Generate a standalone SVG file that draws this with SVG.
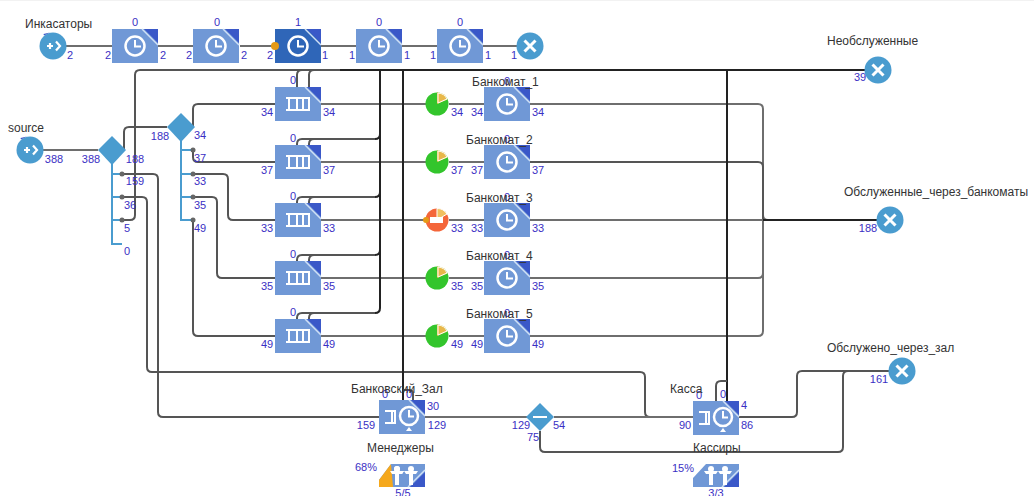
<svg xmlns="http://www.w3.org/2000/svg" width="1034" height="496" viewBox="0 0 1034 496">
<style>
text{font-family:"Liberation Sans",Arial,sans-serif}
.n{font-size:11px;fill:#3a30c4;text-anchor:middle}
.nl{font-size:11px;fill:#3a30c4}
.t{font-size:12px;fill:#333}
.c{fill:none;stroke:#6e6e6e;stroke-width:2}
.d{fill:none;stroke:#222;stroke-width:2}
.m{fill:none;stroke:#555;stroke-width:2}
.b{fill:none;stroke:#4a9ccf;stroke-width:2}
.ic{fill:none;stroke:#fff;stroke-width:2.5}
.port{fill:#666}
.blk{fill:#7098d6}
.blkA{fill:#2f66b8}
.cor{fill:#3a58c8}
.dia{fill:#4a9ccf}
.sink{fill:#4a9ccf}
</style>
<defs>
<g id="corner"><path class="cor" d="M32 0H46V14Z"/><path d="M30 0L46 16" stroke="#cfe0f5" stroke-width="1.5" fill="none"/></g>
<g id="clock"><circle cx="23" cy="17" r="9.5" class="ic"/><path d="M23 11V17.5H29" fill="none" stroke="#fff" stroke-width="2"/></g>
<g id="delay"><rect class="blk" width="46" height="34"/><use href="#corner"/><use href="#clock"/></g>
<g id="delayA"><rect class="blkA" width="46" height="34"/><use href="#corner"/><use href="#clock"/></g>
<g id="queue"><rect class="blk" width="46" height="34"/><use href="#corner"/>
<path d="M11 11H34V23H11M14 11V23M22 11V23M28 11V23" fill="none" stroke="#fff" stroke-width="2"/><path d="M15 12.5H21V21.500H15ZM23 12.500H27V21.500H23Z" fill="#fff" opacity=".0"/></g>
<g id="service"><rect class="blk" width="46" height="34"/><use href="#corner"/>
<path d="M6 11H16V23H6M13 11V23" fill="none" stroke="#fff" stroke-width="2"/>
<circle cx="30" cy="16" r="9" class="ic" fill="#7098d6"/><path d="M30 10V16.500H35" fill="none" stroke="#fff" stroke-width="2"/><path d="M30 27L33 31H27Z" fill="#fff"/></g>
<g id="res"><rect class="blk" width="46" height="23"/><path class="cor" d="M46 8V23H31Z"/><path d="M29 23L46 6" stroke="#cfe0f5" stroke-width="1.500"/>
<g fill="#fff"><circle cx="18" cy="5" r="3"/><path d="M11 7H25L23 10H20V21H16V10H13Z"/><circle cx="32" cy="5" r="3"/><path d="M25 7H39L37 10H34V21H30V10H27Z"/></g></g>
<g id="sinkI"><circle class="sink" r="13.500"/><path d="M-5.500 -5.500L5.500 5.500M5.500 -5.500L-5.500 5.500" stroke="#fff" stroke-width="3"/></g>
<g id="srcI"><circle class="sink" r="13.500"/><path class="cor" d="M-9 -10.500L-3 -13.500L-9.500 -12Z"/><path d="M-6 0H0M-3 -3V3M3 -4.500L7 0L3 4.500" fill="none" stroke="#fff" stroke-width="2.200"/></g>
<g id="hold"><circle r="11.500" fill="#33c52c"/><path d="M0 0V-11.500A11.500 11.500 0 0 1 10.500 -4.500Z" fill="#f0b840"/><path d="M1 -1V-11A10.500 10.500 0 0 1 10 -5Z" fill="#e8b84a" stroke="#fff" stroke-width="1"/></g>
</defs>
<rect width="1034" height="496" fill="#fff"/>
<rect width="1034" height="1" fill="#f2f2f2"/>

<g id="connectors">
<path class="c" d="M66 46H112M158 46H193M240 46H275M321 46H356M402 46H437M483 46H517"/>
<path class="c" d="M43 150H98"/>
<path class="m" d="M124 150V132Q124 127 129 127H167"/>
<path class="m" d="M193 127V109Q193 104 198 104H275"/>
<path class="m" d="M193 150V157Q193 162 198 162H275"/>
<path class="m" d="M193 174H223Q228 174 228 179V215Q228 220 233 220H275"/>
<path class="m" d="M193 197H212Q217 197 217 202V273Q217 278 222 278H275"/>
<path class="m" d="M193 220V331Q193 336 198 336H275"/>
<path class="m" d="M122 174H153Q158 174 158 179V412Q158 417 163 417H379"/>
<path class="m" d="M122 197H142Q147 197 147 202V367Q147 372 152 372H640Q645 372 645 377V412Q645 417 650 417H693"/>
<path class="m" d="M122 220H130Q135 220 135 215V75Q135 70 140 70H340"/>
<path class="c" d="M321 104H426M449 104H484"/>
<path class="c" d="M321 162H426M449 162H484"/>
<path class="c" d="M321 220H426M449 220H484"/>
<path class="c" d="M321 278H426M449 278H484"/>
<path class="c" d="M321 336H426M449 336H484"/>
<path class="c" d="M530 104H758Q763 104 763 109V215Q763 220 768 220"/>
<path class="m" d="M530 162H758Q763 162 763 167V220"/>
<path class="c" d="M530 220H763"/>
<path class="c" d="M530 278H758Q763 278 763 273V220"/>
<path class="c" d="M530 336H758Q763 336 763 331V220"/>
<path class="d" d="M763 220H877"/>
<path class="c" d="M425 417H527M554 417H693"/>
<path class="m" d="M540 431V447Q540 452 545 452H838Q843 452 843 447V376Q843 371 848 371H889"/>
<path class="m" d="M739 417H792Q797 417 797 412V376Q797 371 802 371H889"/>
<path class="d" d="M340 70H865"/>
<path class="m" d="M297 87V75Q297 70 302 70H340M309 87V75Q309 70 314 70H340"/>
<path class="m" d="M297 145V144Q297 139 302 139H375M309 145V144Q309 139 314 139H375"/>
<path class="m" d="M297 203V202Q297 197 302 197H375M309 203V202Q309 197 314 197H375"/>
<path class="m" d="M297 261V260Q297 255 302 255H375M309 261V260Q309 255 314 255H375"/>
<path class="m" d="M297 319V318Q297 313 302 313H375M309 319V318Q309 313 314 313H375"/>
<path class="d" d="M375 139Q380 139 380 134V70M375 197Q380 197 380 192V70M375 255Q380 255 380 250V70M375 313Q380 313 380 308V70"/>
<path class="d" d="M403 70V401"/>
<path class="m" d="M413 401V394Q413 390 409 390H403"/>
<path class="d" d="M727 70V401"/>
<path class="m" d="M716 401V386Q716 381 721 381H727"/>
<path class="b" d="M112 160V244H122M112 174H122M112 197H122M112 220H122"/>
<path class="b" d="M181 137V220H193M181 150H193M181 174H193M181 197H193"/>
<g class="port"><circle cx="122" cy="174" r="2.500"/><circle cx="122" cy="197" r="2.500"/><circle cx="122" cy="220" r="2.500"/><circle cx="193" cy="150" r="2.500"/><circle cx="193" cy="174" r="2.500"/><circle cx="193" cy="197" r="2.500"/><circle cx="193" cy="220" r="2.500"/></g>
</g>

<g id="Инкасаторы"><use href="#srcI" x="53" y="46"/><text class="t" x="25" y="28">Инкасаторы</text><text class="n" x="70" y="59">2</text></g>
<g id="delay1"><use href="#delay" x="112" y="29"/><text class="n" x="135" y="26">0</text><text class="n" x="108" y="59">2</text><text class="n" x="163" y="59">2</text></g>
<g id="delay2"><use href="#delay" x="193" y="29"/><text class="n" x="217" y="26">0</text><text class="n" x="189" y="59">2</text><text class="n" x="244" y="59">2</text></g>
<g id="delay3"><use href="#delayA" x="275" y="29"/><circle cx="275" cy="46" r="4" fill="#e59a16"/><text class="n" x="298" y="26">1</text><text class="n" x="270" y="59">2</text><text class="n" x="325" y="59">1</text></g>
<g id="delay4"><use href="#delay" x="356" y="29"/><text class="n" x="379" y="26">0</text><text class="n" x="352" y="59">1</text><text class="n" x="407" y="59">1</text></g>
<g id="delay5"><use href="#delay" x="437" y="29"/><text class="n" x="460" y="26">0</text><text class="n" x="433" y="59">1</text><text class="n" x="488" y="59">1</text></g>
<g id="sink0"><use href="#sinkI" x="530" y="46"/><text class="n" x="514" y="59">1</text></g>

<g id="source"><use href="#srcI" x="30" y="150"/><text class="t" x="8" y="132">source</text><text class="n" x="54" y="163">388</text></g>
<g id="selectA"><path class="dia" d="M112 136L126 150L112 165L98 150Z"/>
<text class="n" x="91" y="163">388</text><text class="n" x="135" y="163">188</text><text class="n" x="135" y="185">159</text><text class="n" x="130" y="209">36</text><text class="n" x="127" y="232">5</text><text class="n" x="127" y="255">0</text></g>
<g id="selectB"><path class="dia" d="M181 113L195 127L181 142L167 127Z"/>
<text class="n" x="160" y="140">188</text><text class="n" x="200" y="139">34</text><text class="n" x="200" y="162">37</text><text class="n" x="200" y="185">33</text><text class="n" x="200" y="209">35</text><text class="n" x="200" y="232">49</text></g>

<g id="queue1"><use href="#queue" x="275" y="87"/><text class="n" x="293" y="84">0</text><text class="n" x="267" y="116">34</text><text class="n" x="329" y="116">34</text></g>
<g id="queue2"><use href="#queue" x="275" y="145"/><text class="n" x="293" y="142">0</text><text class="n" x="267" y="174">37</text><text class="n" x="329" y="174">37</text></g>
<g id="queue3"><use href="#queue" x="275" y="203"/><text class="n" x="293" y="200">0</text><text class="n" x="267" y="232">33</text><text class="n" x="329" y="232">33</text></g>
<g id="queue4"><use href="#queue" x="275" y="261"/><text class="n" x="293" y="258">0</text><text class="n" x="267" y="290">35</text><text class="n" x="329" y="290">35</text></g>
<g id="queue5"><use href="#queue" x="275" y="319"/><text class="n" x="293" y="316">0</text><text class="n" x="267" y="348">49</text><text class="n" x="329" y="348">49</text></g>

<g id="hold1"><use href="#hold" x="437" y="104"/><text class="n" x="457" y="116">34</text></g>
<g id="hold2"><use href="#hold" x="437" y="162"/><text class="n" x="457" y="174">37</text></g>
<g id="hold3"><circle cx="437" cy="220" r="11.500" fill="#f4663a"/><path d="M437 220V208.500A11.500 11.500 0 0 1 447 214Z" fill="#f0c060" stroke="#fff"/><rect x="430" y="217" width="13" height="6" fill="#fff"/><circle cx="426" cy="220" r="3" fill="#e59a16"/><text class="n" x="457" y="232">33</text></g>
<g id="hold4"><use href="#hold" x="437" y="278"/><text class="n" x="457" y="290">35</text></g>
<g id="hold5"><use href="#hold" x="437" y="336"/><text class="n" x="457" y="348">49</text></g>

<g id="atm1"><use href="#delay" x="484" y="87"/><text class="n" x="507" y="85">0</text><text class="t" x="472" y="86">Банкомат_1</text><text class="n" x="477" y="116">34</text><text class="n" x="538" y="116">34</text></g>
<g id="atm2"><use href="#delay" x="484" y="145"/><text class="n" x="507" y="143">0</text><text class="t" x="466" y="144">Банкомат_2</text><text class="n" x="477" y="174">37</text><text class="n" x="538" y="174">37</text></g>
<g id="atm3"><use href="#delay" x="484" y="203"/><text class="n" x="507" y="201">0</text><text class="t" x="466" y="202">Банкомат_3</text><text class="n" x="477" y="232">33</text><text class="n" x="538" y="232">33</text></g>
<g id="atm4"><use href="#delay" x="484" y="261"/><text class="n" x="507" y="259">0</text><text class="t" x="466" y="260">Банкомат_4</text><text class="n" x="477" y="290">35</text><text class="n" x="538" y="290">35</text></g>
<g id="atm5"><use href="#delay" x="484" y="319"/><text class="n" x="507" y="317">0</text><text class="t" x="466" y="318">Банкомат_5</text><text class="n" x="477" y="348">49</text><text class="n" x="538" y="348">49</text></g>

<g id="zal"><use href="#service" x="379" y="400"/><text class="n" x="385" y="398">0</text><text class="n" x="409" y="398">0</text><text class="t" x="351" y="393">Банковский_Зал</text><text class="n" x="433" y="410">30</text><text class="n" x="366" y="429">159</text><text class="n" x="437" y="429">129</text></g>
<g id="kassa"><use href="#service" x="693" y="401"/><text class="n" x="699" y="399">0</text><text class="n" x="723" y="398">0</text><text class="t" x="670" y="393">Касса</text><text class="n" x="744" y="409">4</text><text class="n" x="685" y="429">90</text><text class="n" x="747" y="429">86</text></g>
<g id="split"><path class="dia" d="M540 403L554 417L540 431L526 417Z"/><path d="M533 417H547" stroke="#fff" stroke-width="2"/><text class="n" x="521" y="429">129</text><text class="n" x="559" y="429">54</text><text class="n" x="533" y="441">75</text></g>

<g id="managers"><path d="M379 487V478A14 14 0 0 1 393 464V487Z" fill="#f5a81c"/><path d="M393 464H425V487H379V484L393 464Z" fill="#7098d6"/><use href="#res" x="379" y="464"/><path d="M379 487V480L391 464H379Z" fill="#fff"/><path d="M379 487V480L391 464L393 487Z" fill="#f5a81c"/><g fill="#fff"><circle cx="397" cy="469" r="3"/><path d="M390 471H404L402 474H399V485H395V474H392Z"/></g><text class="t" x="367" y="452">Менеджеры</text><text class="n" x="366" y="471">68%</text><text class="n" x="403" y="497">5/5</text></g>
<g id="cashiers"><use href="#res" x="693" y="464"/><path d="M693 464V478L706 464Z" fill="#fff"/><text class="t" x="693" y="452">Кассиры</text><text class="n" x="683" y="472">15%</text><text class="n" x="716" y="497">3/3</text></g>

<g id="sinkA"><use href="#sinkI" x="878" y="70"/><text class="t" x="827" y="45">Необслуженные</text><text class="n" x="860" y="81">39</text></g>
<g id="sinkB"><use href="#sinkI" x="890" y="220"/><text class="t" x="844" y="196">Обслуженные_через_банкоматы</text><text class="n" x="868" y="232">188</text></g>
<g id="sinkC"><use href="#sinkI" x="902" y="371"/><text class="t" x="827" y="352">Обслужено_через_зал</text><text class="n" x="879" y="383">161</text></g>
</svg>
